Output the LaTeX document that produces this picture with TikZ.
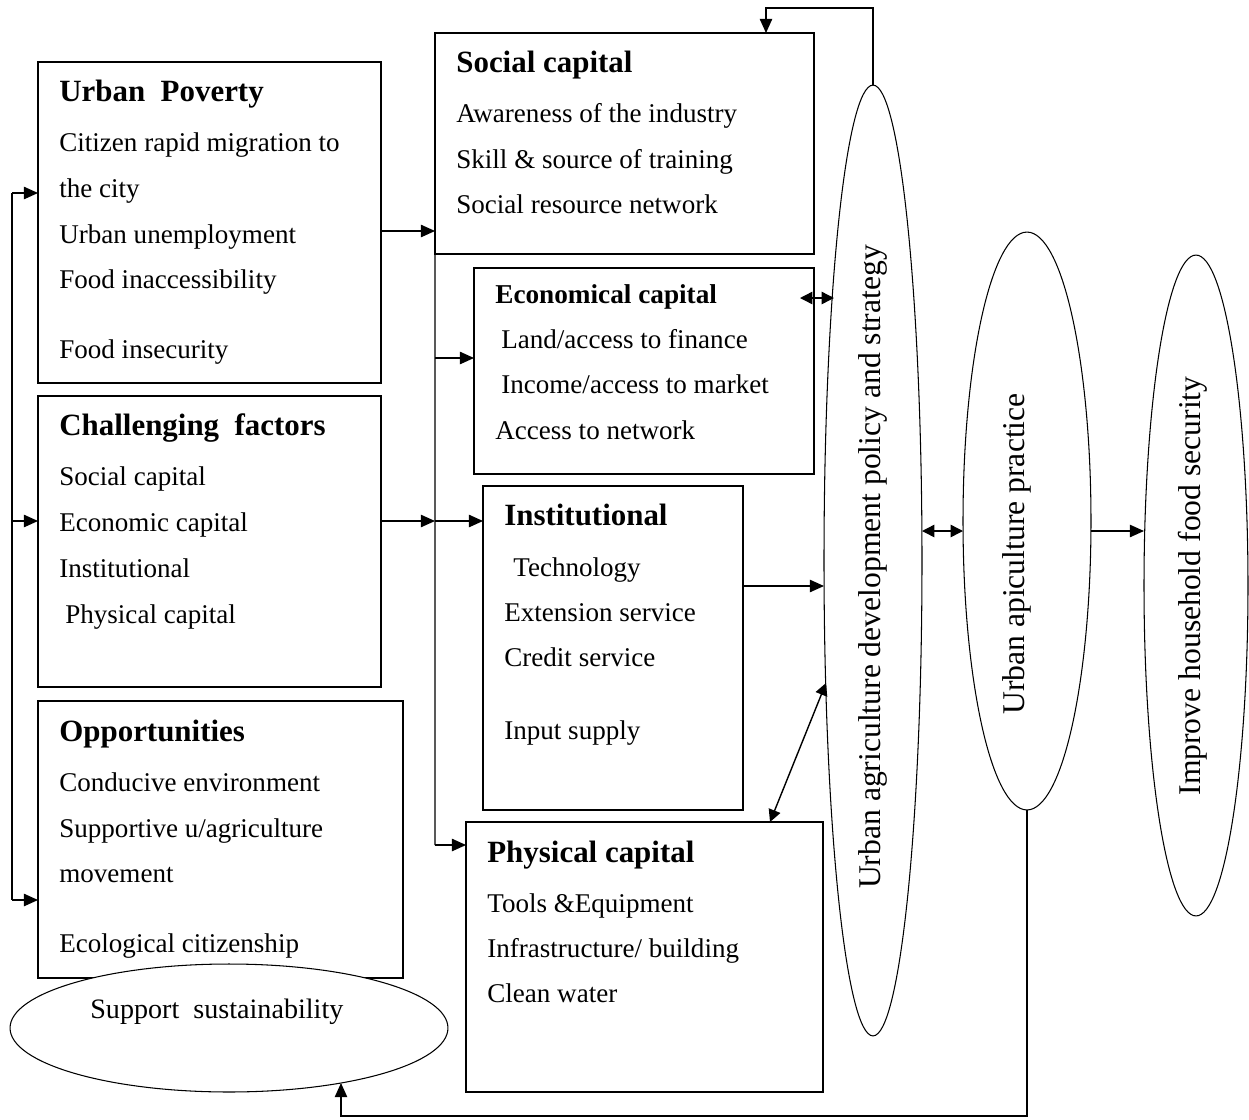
\documentclass[tikz,border=0pt]{standalone}
\usepackage{fontspec}
\setmainfont{Liberation Serif}
\usetikzlibrary{shapes.geometric,arrows.meta}

\tikzset{
  box/.style={draw, line width=0.8pt, inner sep=0pt, outer sep=0pt},
  oval/.style={draw, ellipse, line width=0.6pt, inner sep=0pt, outer sep=0pt, fill=white},
  txt/.style={anchor=base west, inner sep=0pt, yshift=-0.06cm, font=\fontsize{15.4}{18}\selectfont},
  head/.style={anchor=base west, inner sep=0pt, yshift=-0.06cm, font=\fontsize{17.6}{20}\selectfont\bfseries},
  vtxt/.style={rotate=90, inner sep=0pt, font=\fontsize{18}{21}\selectfont},
  wire/.style={line width=0.8pt},
  arr/.style={line width=0.8pt, -{Triangle[length=8pt,width=7pt]}},
  darr/.style={line width=0.8pt, {Triangle[length=7pt,width=7pt]}-{Triangle[length=7pt,width=7pt]}}
}

\begin{document}
\begin{tikzpicture}[x=0.02cm, y=-0.02cm]
    \useasboundingbox (0,0) rectangle (1249,1120);

    % boxes on the left
    \node[box, minimum width=6.86cm, minimum height=6.42cm] (poverty) at (209.5,222.5) {};
    \node[box, minimum width=6.86cm, minimum height=5.82cm] (chal) at (209.5,541.5) {};
    \node[box, minimum width=7.3cm, minimum height=5.54cm] (opp) at (220.5,839.5) {};
    \node[oval, minimum width=8.76cm, minimum height=2.56cm] (support) at (229,1028) {};

    % capital boxes
    \node[box, minimum width=7.58cm, minimum height=4.42cm] (social) at (624.5,143.5) {};
    \node[box, minimum width=6.8cm, minimum height=4.12cm] (econ) at (644,371) {};
    \node[box, minimum width=5.2cm, minimum height=6.48cm] (inst) at (613,648) {};
    \node[box, minimum width=7.14cm, minimum height=5.4cm] (phys) at (644.5,957) {};

    % ellipses on the right
    \node[oval, minimum width=1.96cm, minimum height=19.02cm] (policy) at (873,560.5) {};
    \node[oval, minimum width=2.56cm, minimum height=11.56cm] (practice) at (1027,521) {};
    \node[oval, minimum width=2.08cm, minimum height=13.22cm] (food) at (1196,585.5) {};

    % texts
    \node[head] (pv0) at (59,98) {Urban\ \ Poverty};
    \node[txt] (pv1) at (59,148) {Citizen rapid migration to};
    \node[txt] (pv2) at (59,194) {the city};
    \node[txt] (pv3) at (59,240) {Urban unemployment};
    \node[txt] (pv4) at (59,285) {Food inaccessibility};
    \node[txt] (pv5) at (59,355) {Food insecurity};

    \node[head] (ch0) at (59,432) {Challenging\ \ factors};
    \node[txt] (ch1) at (59,482) {Social capital};
    \node[txt] (ch2) at (59,528) {Economic capital};
    \node[txt] (ch3) at (59,574) {Institutional};
    \node[txt] (ch4) at (65,620) {Physical capital};

    \node[head] (op0) at (59,738) {Opportunities};
    \node[txt] (op1) at (59,788) {Conducive environment};
    \node[txt] (op2) at (59,834) {Supportive u/agriculture};
    \node[txt] (op3) at (59,879) {movement};
    \node[txt] (op4) at (59,949) {Ecological citizenship};

    \node[txt, font=\fontsize{16}{19}\selectfont] (su0) at (90,1015) {Support\ \ sustainability};

    \node[head] (sc0) at (456,69) {Social capital};
    \node[txt] (sc1) at (456,119) {Awareness of the industry};
    \node[txt] (sc2) at (456,165) {Skill \& source of training};
    \node[txt] (sc3) at (456,210) {Social resource network};

    \node[head, font=\fontsize{15.5}{18}\selectfont\bfseries] (ec0) at (495,300) {Economical capital};
    \node[txt] (ec1) at (501,345) {Land/access to finance};
    \node[txt] (ec2) at (501,390) {Income/access to market};
    \node[txt] (ec3) at (495,436) {Access to network};

    \node[head] (in0) at (504,522) {Institutional};
    \node[txt] (in1) at (513,573) {Technology};
    \node[txt] (in2) at (504,618) {Extension service};
    \node[txt] (in3) at (504,663) {Credit service};
    \node[txt] (in4) at (504,736) {Input supply};

    \node[head] (ph0) at (487,859) {Physical capital};
    \node[txt] (ph1) at (487,909) {Tools \&Equipment};
    \node[txt] (ph2) at (487,954) {Infrastructure/ building};
    \node[txt] (ph3) at (487,999) {Clean water};

    \node[vtxt] (policytxt) at (873,567) {Urban agriculture development policy and strategy};
    \node[vtxt] (practicetxt) at (1017,554) {Urban apiculture practice};
    \node[vtxt] (foodtxt) at (1193,586) {Improve household food security};

    % helper points
    \coordinate (lp1) at (12,193);
    \coordinate (lp2) at (12,521);
    \coordinate (lp3) at (12,900);
    \coordinate (sc) at (435,231);
    \coordinate (tr1) at (435,358);
    \coordinate (tr2) at (435,521);
    \coordinate (tr3) at (435,845);
    \coordinate (pe0) at (800,298);
    \coordinate (pe) at (834,298);
    \coordinate (pi) at (824,586);
    \coordinate (pp) at (826,683);
    \coordinate (ph) at (770,822);
    \coordinate (pr) at (0,531);
    \coordinate (top) at (766,8);
    \coordinate (bot) at (341,1116);
    \coordinate (se) at (341,1083);

    % feedback on the left
    \draw[wire] (lp1) -- (lp3);
    \draw[arr] (lp1) -- (poverty.west |- lp1);
    \draw[arr] (lp2) -- (chal.west |- lp2);
    \draw[arr] (lp3) -- (opp.west |- lp3);

    % into the capitals
    \draw[arr] (poverty.east |- sc) -- (social.west |- sc);
    \draw[arr] (chal.east |- tr2) -- (tr2);
    \draw[arr] (tr2) -- (inst.west |- tr2);
    \draw[wire] (social.south west) -- (tr3);
    \draw[arr] (tr1) -- (econ.west |- tr1);
    \draw[arr] (tr3) -- (phys.west |- tr3);

    % towards policy and beyond
    \draw[darr] (pe0) -- (pe);
    \draw[arr] (inst.east |- pi) -- (pi);
    \draw[darr] (ph) -- (pp);
    \draw[darr] (policy.east |- pr) -- (practice.west |- pr);
    \draw[arr] (practice.east |- pr) -- (food.west |- pr);
    \draw[arr] (policy.north) |- (top) -- (social.north -| top);
    \draw[arr] (practice.south) |- (bot) -- (se);
\end{tikzpicture}
\end{document}
